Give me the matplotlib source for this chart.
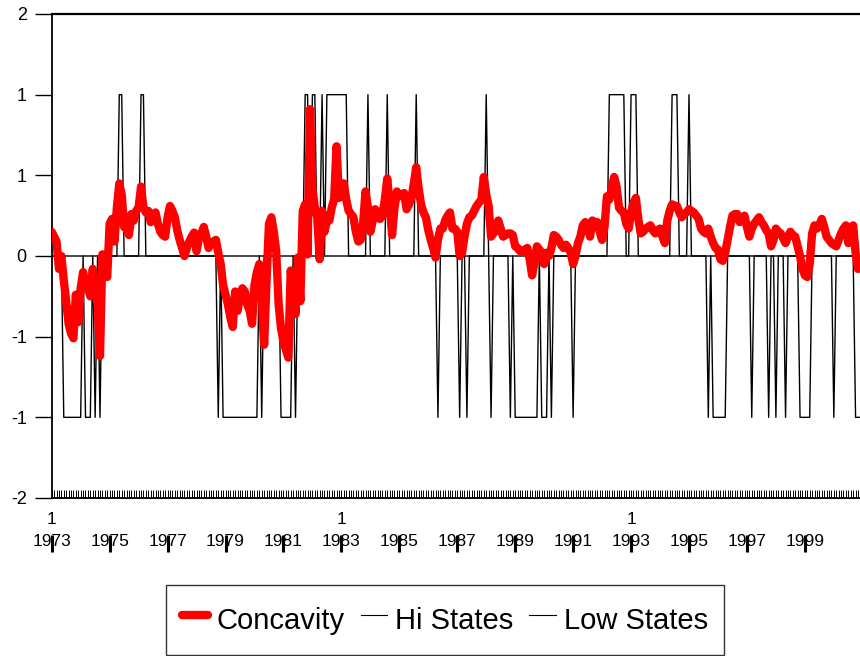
import numpy as np
import matplotlib
matplotlib.use("Agg")
import matplotlib.pyplot as plt
from matplotlib.lines import Line2D

plt.rcParams['font.family'] = ['Liberation Sans', 'DejaVu Sans']

# monthly series, Jan 1973 .. Dec 2000
start_year = 1973
concavity = [
    0.15, 0.12, 0.09, -0.08, 0.00, -0.15, -0.28, -0.42, -0.48, -0.51,
    -0.24, -0.41, -0.20, -0.10, -0.18, -0.20, -0.25, -0.08, -0.22, -0.30,
    -0.62, 0.01, -0.08, -0.13, 0.20, 0.23, 0.09, 0.30, 0.45, 0.38,
    0.18, 0.17, 0.13, 0.26, 0.22, 0.28, 0.30, 0.43, 0.30, 0.27,
    0.28, 0.21, 0.22, 0.27, 0.20, 0.15, 0.13, 0.12, 0.24, 0.31,
    0.28, 0.24, 0.16, 0.10, 0.05, 0.00, 0.05, 0.09, 0.12, 0.145,
    0.03, 0.11, 0.14, 0.18, 0.12, 0.05, 0.08, 0.09, 0.10, 0.02,
    -0.05, -0.18, -0.24, -0.30, -0.38, -0.44, -0.22, -0.34, -0.25, -0.20,
    -0.22, -0.30, -0.34, -0.42, -0.18, -0.10, -0.05, -0.26, -0.55, -0.15,
    0.20, 0.24, 0.15, 0.03, -0.30, -0.45, -0.53, -0.58, -0.63, -0.09,
    -0.20, -0.36, -0.01, -0.28, 0.28, 0.32, 0.01, 0.91, 0.42, 0.30,
    0.24, -0.02, 0.28, 0.15, 0.22, 0.22, 0.30, 0.35, 0.68, 0.36,
    0.42, 0.45, 0.35, 0.28, 0.26, 0.24, 0.15, 0.09, 0.10, 0.20,
    0.40, 0.30, 0.15, 0.22, 0.29, 0.27, 0.23, 0.25, 0.35, 0.48,
    0.32, 0.13, 0.30, 0.40, 0.37, 0.38, 0.39, 0.29, 0.32, 0.36,
    0.45, 0.55, 0.42, 0.32, 0.27, 0.24, 0.16, 0.10, 0.05, -0.01,
    0.10, 0.17, 0.17, 0.22, 0.25, 0.27, 0.17, 0.17, 0.15, 0.00,
    0.02, 0.12, 0.20, 0.24, 0.25, 0.28, 0.31, 0.33, 0.35, 0.49,
    0.38, 0.31, 0.12, 0.14, 0.16, 0.22, 0.17, 0.12, 0.13, 0.14,
    0.14, 0.13, 0.06, 0.05, 0.03, 0.03, 0.04, 0.05, -0.02, -0.12,
    -0.04, 0.06, 0.04, 0.02, -0.05, 0.02, 0.00, 0.05, 0.13, 0.12,
    0.10, 0.07, 0.05, 0.07, 0.05, 0.02, -0.05, 0.00, 0.08, 0.12,
    0.19, 0.21, 0.18, 0.12, 0.22, 0.21, 0.21, 0.15, 0.10, 0.18,
    0.37, 0.35, 0.42, 0.49, 0.43, 0.30, 0.28, 0.27, 0.20, 0.17,
    0.27, 0.33, 0.36, 0.23, 0.14, 0.15, 0.17, 0.18, 0.19, 0.16,
    0.14, 0.16, 0.17, 0.12, 0.08, 0.22, 0.28, 0.32, 0.31, 0.31,
    0.27, 0.24, 0.26, 0.27, 0.29, 0.28, 0.27, 0.25, 0.23, 0.17,
    0.15, 0.14, 0.17, 0.12, 0.08, 0.05, 0.04, -0.02, -0.03, 0.02,
    0.10, 0.18, 0.25, 0.26, 0.26, 0.21, 0.23, 0.25, 0.18, 0.12,
    0.17, 0.20, 0.22, 0.24, 0.21, 0.19, 0.16, 0.14, 0.06, 0.10,
    0.17, 0.15, 0.14, 0.11, 0.08, 0.12, 0.15, 0.13, 0.12, 0.06,
    0.00, -0.08, -0.12, -0.13, -0.05, 0.14, 0.19, 0.17, 0.19, 0.23,
    0.18, 0.12, 0.10, 0.08, 0.07, 0.06, 0.10, 0.14, 0.17, 0.19,
    0.08, 0.14, 0.19, 0.02, -0.08, -0.05,
]

# months (index from Jan 1973) in each regime
hi_months = [28, 29, 37, 38, 105, 106, 108, 109, 112] + list(range(114, 123)) + \
    [131, 139, 151, 180] + list(range(231, 238)) + [240, 241, 242, 257, 258, 259, 264]
low_months = list(range(5, 13)) + [14, 15, 16, 18, 20, 69] + list(range(71, 86)) + \
    [87, 95, 96, 97, 98, 99, 101, 160, 169, 172, 182, 190] + list(range(192, 202)) + \
    [203, 204, 205, 207, 216, 272] + list(range(274, 280)) + \
    [290, 297, 300, 304] + list(range(310, 315)) + [324, 333, 334, 335]

n = len(concavity)
t = np.arange(n)
hi = np.zeros(n)
hi[hi_months] = 1
low = np.zeros(n)
low[low_months] = -1

ytick_vals = [-1.5, -1.0, -0.5, 0.0, 0.5, 1.0, 1.5]
ytick_labels = ['-2', '-1', '-1', '0', '1', '1', '2']
year_labels = list(range(1973, 2001, 2))

W, H = 860, 656
fig = plt.figure(figsize=(W / 100, H / 100), dpi=100)
x0, y_top, y_bot = 51.7, 14, 498
px_per_month = 2.414
ax = fig.add_axes([x0 / W, 1 - y_bot / H, (335 * px_per_month) / W, (y_bot - y_top) / H])

ax.plot(t, hi, color='black', lw=1.0, zorder=2, label='Hi States')
ax.plot(t, low, color='black', lw=1.0, zorder=2, label='Low States')
ax.plot(t, concavity, color='#ff0000', lw=6.0, zorder=3, solid_capstyle='round',
        solid_joinstyle='round', label='Concavity')

ax.set_xlim(0, 335)
ax.set_ylim(-1.5, 1.5)
ax.set_yticks(ytick_vals)
ax.set_yticklabels(ytick_labels)
ax.tick_params(axis='y', direction='out', length=12, width=1.0, labelsize=13, pad=6)

ax.set_xticks([0, 120, 240])
ax.set_xticklabels(['1', '1', '1'])
ax.set_xticks(np.arange(0, n), minor=True)
ax.tick_params(axis='x', which='both', direction='in', length=6, width=0.7,
               labelsize=12.5, pad=10)

for s in ['left', 'bottom']:
    ax.spines[s].set_linewidth(1.3)
ax.spines['top'].set_linewidth(1.6)
ax.spines['right'].set_visible(False)

trans = ax.get_xaxis_transform()
for yr in year_labels:
    m = (yr - start_year) * 12
    ax.text(m, -0.0899, str(yr), transform=trans, ha='center', va='center',
            fontsize=12.5, clip_on=False)
    ax.plot([m, m], [-0.076, -0.112], transform=trans, color='black', lw=2.2,
            clip_on=False, solid_capstyle='butt')

handles = [Line2D([], [], color='#ff0000', lw=6, solid_capstyle='round'),
           Line2D([], [], color='black', lw=0.8),
           Line2D([], [], color='black', lw=0.8)]
leg = fig.legend(handles, ['Concavity', 'Hi States', 'Low States'], ncol=3,
                 loc='upper center', bbox_to_anchor=(445 / W, 1 - 585 / H),
                 borderaxespad=0, frameon=True, fancybox=False, edgecolor='black',
                 fontsize=21, handlelength=0.9, handleheight=1.6, handletextpad=0.28,
                 columnspacing=0.55, borderpad=0.55)
leg.get_frame().set_linewidth(1.0)

fig.savefig('out.png', dpi=100)
